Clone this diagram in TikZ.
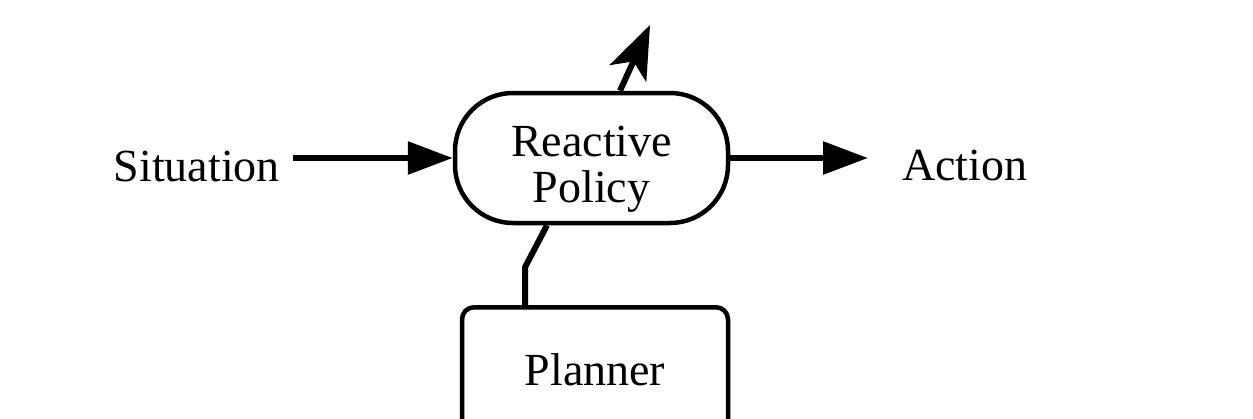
\documentclass[tikz,border=0pt]{standalone}
\usepackage{fontspec}
\setmainfont{Liberation Serif}
\usetikzlibrary{arrows.meta}
\begin{document}
\begin{tikzpicture}[x=1pt,y=-1pt,
  lbl/.style={font=\fontsize{46}{46}\selectfont, inner sep=0pt},
  box/.style={draw, line width=4.5pt},
  conn/.style={line width=6pt},
  arr/.style={conn, -{Triangle[length=45pt,width=32pt]}},
  uparr/.style={conn, -{Stealth[length=53pt,width=40pt,inset=13pt]}}]
\useasboundingbox (0,0) rectangle (1253,418);
\clip (0,0) rectangle (1253,418);
\fill[white] (0,0) rectangle (1253,418);
% nodes
\node[box, rounded corners=58pt, minimum width=273pt, minimum height=130pt] (rp) at (591.5,158) {};
\node[lbl, align=center] (rptxt) at (591.5,169) {Reactive\\Policy};
\node[box, rounded corners=12pt, minimum width=266pt, minimum height=140pt, anchor=north] (pl) at (595,305) {};
\node[lbl] (pltxt) at (595,370) {Planner};
\node[lbl, anchor=base east, inner xsep=13pt] (sit) at (293,181) {Situation};
\node[lbl, anchor=base west, inner xsep=34pt] (act) at (868,180) {Action};
\coordinate (out) at (650,25);
% connectors
\draw[arr] (rp.west -| sit.east) -- (rp.west);
\draw[arr] (rp.east) -- (rp.east -| act.west);
\draw[uparr] ([xshift=28.5pt]rp.north) -- (out);
\draw[conn] ([xshift=-44.5pt]rp.south) -- ++(-22,42) -- ([xshift=-70pt]pl.north);
\end{tikzpicture}
\end{document}
